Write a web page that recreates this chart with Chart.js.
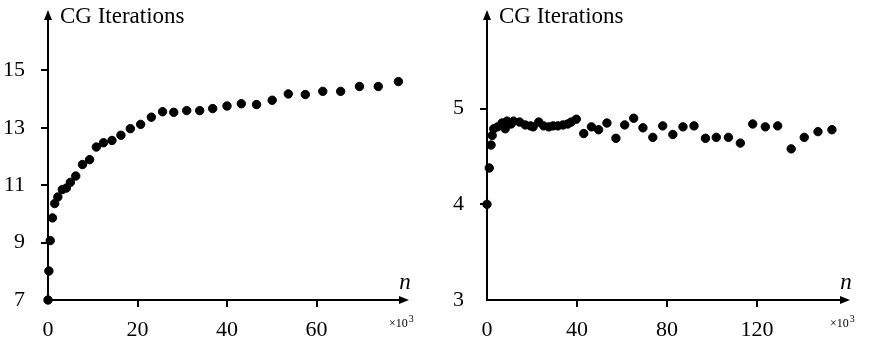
<!DOCTYPE html>
<html>
<head>
<meta charset="utf-8">
<script src="https://cdn.jsdelivr.net/npm/chart.js@4"></script>
<style>
  body { margin: 0; background: #fff; }
  .wrap { display: flex; width: 872px; height: 344px; }
  canvas { display: block; }
</style>
</head>
<body>
<div class="wrap">
  <canvas id="leftChart" width="436" height="344"></canvas>
  <canvas id="rightChart" width="436" height="344"></canvas>
</div>
<script>
// left panel: n in thousands, CG iterations
var leftN = [0, 0.2, 0.5, 1, 1.5, 2.2, 3.2, 4.1, 5, 6.2, 7.7, 9.3, 10.8, 12.4, 14.3, 16.3, 18.4, 20.7, 23.1, 25.6,
  28.1, 31, 33.9, 36.8, 40, 43.2, 46.6, 50.1, 53.7, 57.5, 61.4, 65.4, 69.6, 73.8, 78.3];
var leftIters = [7, 8.01, 9.07, 9.86, 10.36, 10.59, 10.85, 10.9, 11.1, 11.32, 11.72, 11.89, 12.33, 12.48, 12.56, 12.74,
  12.97, 13.12, 13.37, 13.56, 13.54, 13.6, 13.6, 13.67, 13.76, 13.84, 13.81, 13.96, 14.18, 14.16, 14.27, 14.27,
  14.44, 14.44, 14.61];
var leftXTicks = [0, 20, 40, 60];
var leftYTicks = [7, 9, 11, 13, 15];

// right panel
var rightN = [0, 1, 1.8, 2.3, 3, 4.7, 6.7, 8.1, 8.9, 10.7, 11.8, 14.5, 17, 19.3, 20.5, 23, 25.2, 27.5, 29.4, 31.5,
  33.8, 35.9, 37.4, 39.7, 43, 46.4, 49.6, 53.3, 57.3, 61.2, 65.2, 69.3, 73.7, 78.1, 82.6, 87.1, 92, 97.1, 101.9,
  107.3, 112.6, 118.1, 123.7, 129.2, 135.2, 141, 147.1, 153.3];
var rightIters = [4.0, 4.38, 4.62, 4.72, 4.79, 4.81, 4.85, 4.79, 4.87, 4.84, 4.87, 4.86, 4.83, 4.82, 4.81, 4.86,
  4.82, 4.81, 4.82, 4.82, 4.83, 4.84, 4.86, 4.89, 4.74, 4.81, 4.78, 4.85, 4.69, 4.83, 4.9, 4.8, 4.7, 4.82, 4.73,
  4.81, 4.82, 4.69, 4.7, 4.7, 4.64, 4.84, 4.81, 4.82, 4.58, 4.7, 4.76, 4.78];
var rightXTicks = [0, 40, 80, 120];
var rightYTicks = [3, 4, 5];

var serif = "'Liberation Serif', 'DejaVu Serif', serif";

// arrows, axis names and the x10^3 note
var decorations = {
  id: "decorations",
  afterDraw: function (chart) {
    var c = chart.ctx, a = chart.chartArea;
    c.save();
    c.fillStyle = "#000";
    c.beginPath();
    c.moveTo(a.right + 3, a.bottom);
    c.lineTo(a.right - 7, a.bottom - 4);
    c.lineTo(a.right - 7, a.bottom + 4);
    c.closePath();
    c.fill();
    c.beginPath();
    c.moveTo(a.left, a.top - 3);
    c.lineTo(a.left - 4, a.top + 7);
    c.lineTo(a.left + 4, a.top + 7);
    c.closePath();
    c.fill();

    c.textBaseline = "alphabetic";
    c.textAlign = "left";
    c.font = "23px " + serif;
    c.fillText("CG Iterations", a.left + 12, 23);

    c.font = "italic 23px " + serif;
    c.textAlign = "center";
    c.fillText("n", a.right - 1, a.bottom - 11);

    c.textAlign = "left";
    c.font = "12px " + serif;
    var x0 = a.right - 17, y0 = a.bottom + 27;
    var w = c.measureText("\u00d710").width;
    c.fillText("\u00d710", x0, y0);
    c.font = "10px " + serif;
    c.fillText("3", x0 + w + 1, y0 - 5);
    c.restore();
  }
};

function makeChart(id, xs, ys, xTicks, yTicks, xMax, yMin, yMax, yWidth, padRight) {
  var points = xs.map(function (x, i) { return { x: x, y: ys[i] }; });
  return new Chart(document.getElementById(id).getContext("2d"), {
    type: "scatter",
    data: {
      datasets: [{
        data: points,
        backgroundColor: "#000",
        borderColor: "#000",
        pointRadius: 4.2,
        clip: false
      }]
    },
    options: {
      responsive: false,
      animation: false,
      layout: { padding: { top: 13, right: padRight, left: 0, bottom: 0 } },
      plugins: { legend: { display: false }, tooltip: { enabled: false } },
      scales: {
        x: {
          type: "linear",
          min: 0,
          max: xMax,
          afterFit: function (s) {
            s.height = 44;
            s.paddingLeft = 0;
            s.paddingRight = 0;
          },
          afterBuildTicks: function (s) {
            s.ticks = xTicks.map(function (v) { return { value: v }; });
          },
          border: { color: "#000", width: 2 },
          grid: {
            drawOnChartArea: false,
            tickLength: 7,
            lineWidth: 2,
            color: function (ctx) { return ctx.tick && ctx.tick.value === 0 ? "rgba(0,0,0,0)" : "#000"; }
          },
          ticks: { color: "#000", font: { family: serif, size: 22 }, padding: 10, maxRotation: 0 }
        },
        y: {
          min: yMin,
          max: yMax,
          afterFit: function (s) {
            s.width = yWidth;
            s.paddingTop = 0;
            s.paddingBottom = 0;
          },
          afterBuildTicks: function (s) {
            s.ticks = yTicks.map(function (v) { return { value: v }; });
          },
          border: { color: "#000", width: 2 },
          grid: {
            drawOnChartArea: false,
            tickLength: 7,
            lineWidth: 2,
            color: function (ctx) { return ctx.tick && ctx.tick.value === yMin ? "rgba(0,0,0,0)" : "#000"; }
          },
          ticks: { color: "#000", font: { family: serif, size: 22 }, padding: 16 }
        }
      }
    },
    plugins: [decorations]
  });
}

makeChart("leftChart", leftN, leftIters, leftXTicks, leftYTicks, 80, 7, 17, 48, 30);
makeChart("rightChart", rightN, rightIters, rightXTicks, rightYTicks, 160, 3, 6, 51, 25);
</script>
</body>
</html>
